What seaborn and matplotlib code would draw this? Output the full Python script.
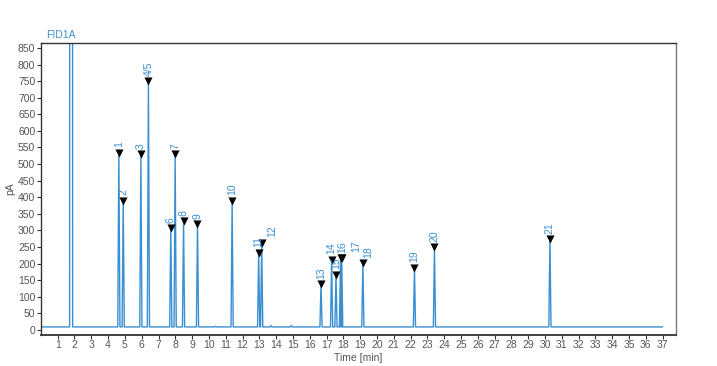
import matplotlib
matplotlib.use("Agg")
import matplotlib.pyplot as plt
import seaborn as sns
import pandas as pd

# ---- data ----
peak_names = ["1", "2", "3", "4/5", "6", "7", "8", "9", "10", "11", "12",
              "13", "14", "15", "16", "17", "18", "19", "20", "21"]
peak_times = [4.64, 4.90, 5.95, 6.40, 7.73, 7.99, 8.49, 9.32, 11.38, 12.96, 13.14,
              16.67, 17.30, 17.56, 17.83, 17.90, 19.16, 22.23, 23.42, 30.29]
peak_heights = [534, 389, 529, 750, 306, 529, 328, 319, 389, 233, 263,
                138, 211, 166, 216, 218, 201, 188, 249, 273]
solvent_time = 1.80
solvent_height = 20000
minor_times = [10.40, 13.70, 14.90]
minor_heights = [11, 13, 13]
baseline = 9
run_end = 37.0
label_times = {"12": 13.75, "16": 17.95, "17": 18.75, "18": 19.50}
y_ticks = list(range(0, 851, 50))
x_ticks = list(range(1, 38))

BLUE = "#3a8fd3"
GRAY = "#555555"

# ---- build trace from the peak table ----
events = [(solvent_time, solvent_height, 0.09)]
events += [(t, h, 0.065) for t, h in zip(peak_times, peak_heights)]
events += [(t, h, 0.06) for t, h in zip(minor_times, minor_heights)]
events.sort()
tx, ty = [0.0], [baseline]
for t, h, w in events:
    tx += [t - w, t, t + w]
    ty += [baseline, h, baseline]
tx.append(run_end)
ty.append(baseline)
trace = pd.DataFrame({"time": tx, "signal": ty})
peaks = pd.DataFrame({"time": peak_times, "height": peak_heights, "name": peak_names})

sns.set_theme(style="white")
plt.rcParams["font.family"] = ["Liberation Sans", "DejaVu Sans"]

fig = plt.figure(figsize=(7.17, 3.66), dpi=100)
ax = fig.add_axes([0.057, 0.085, 0.886, 0.7975])

sns.lineplot(data=trace, x="time", y="signal", sort=False, estimator=None,
             color=BLUE, linewidth=1.0, ax=ax)
sns.scatterplot(data=peaks, x="time", y="height", marker="v", s=34,
                color="black", edgecolor="black", linewidth=0, ax=ax, zorder=5)

for t, h, n in zip(peak_times, peak_heights, peak_names):
    lt = label_times.get(n, t)
    ax.annotate(n, xy=(lt, h), xytext=(0, 4), textcoords="offset points",
                rotation=90, ha="center", va="bottom", fontsize=7.5,
                color=BLUE, zorder=6)

ax.set_xlim(0, 37.8)
ax.set_ylim(-15, 865)
ax.set_xticks(x_ticks)
ax.set_xticklabels([str(v) for v in x_ticks])
ax.set_yticks(y_ticks)
ax.set_yticklabels([str(v) for v in y_ticks])
ax.tick_params(axis="both", which="major", direction="out", length=3,
               width=0.8, color="#333333", labelsize=7.5, labelcolor=GRAY, pad=1,
               bottom=True, left=True)
ax.set_xlabel("Time [min]", fontsize=7.5, color=GRAY, labelpad=2)
ax.set_ylabel("pA", fontsize=7.5, color=GRAY, labelpad=2)

for side in ["left", "bottom", "top"]:
    ax.spines[side].set_color("#333333")
    ax.spines[side].set_linewidth(1.0)
ax.spines["right"].set_color("#777777")
ax.spines["right"].set_linewidth(1.0)
ax.spines["bottom"].set_linewidth(1.3)

fig.text(0.064, 0.905, "FID1A", fontsize=7.5, color=BLUE, ha="left", va="center")

fig.savefig("out.png", dpi=100)
